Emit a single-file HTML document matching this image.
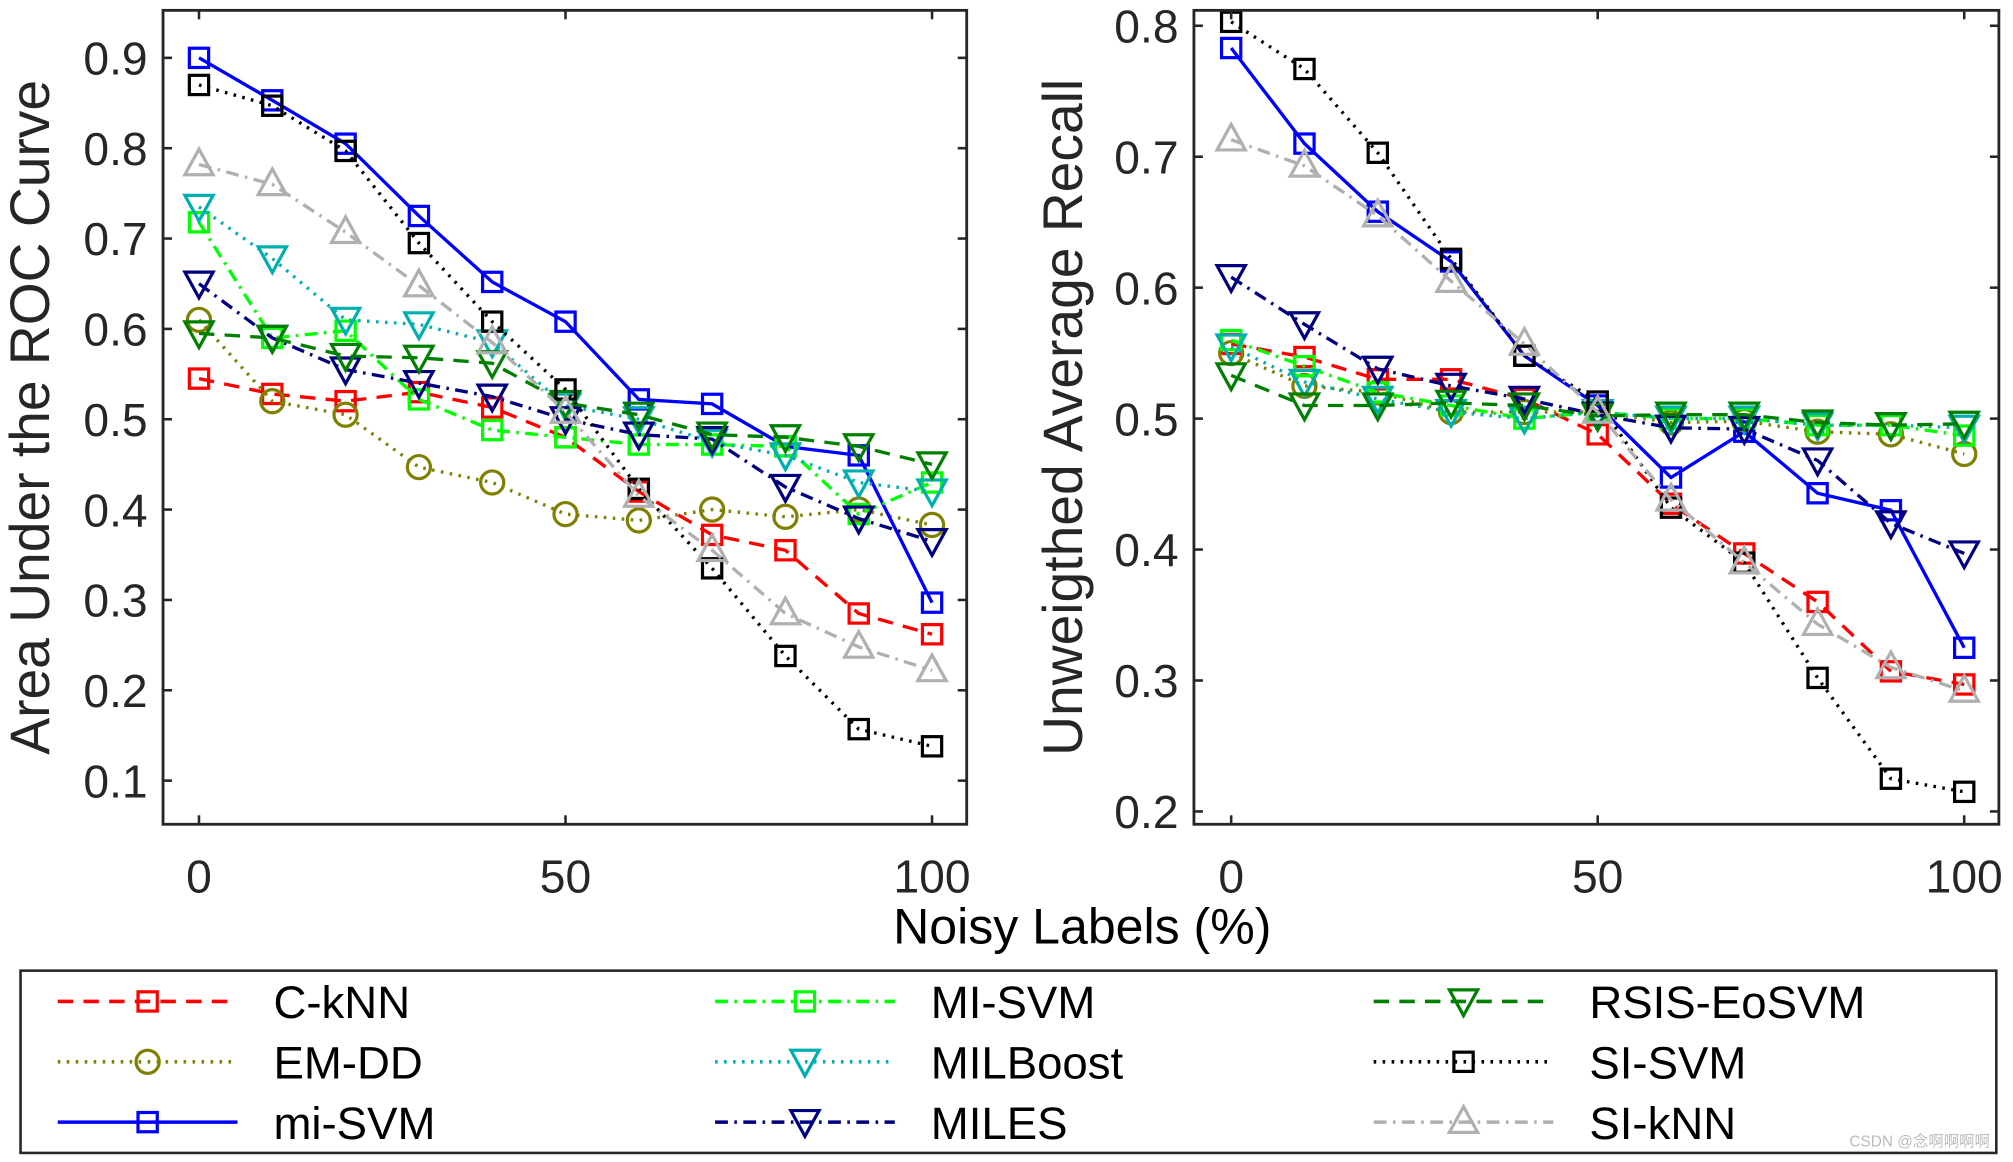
<!DOCTYPE html>
<html><head><meta charset="utf-8"><style>
html,body{margin:0;padding:0;background:#fff;}
svg{display:block;font-family:"Liberation Sans",sans-serif;}
</style></head><body>
<svg id="fig" width="2013" height="1162" viewBox="0 0 1568 905" xmlns="http://www.w3.org/2000/svg"></svg>
<script>
const xValues=[0,10,20,30,40,50,60,70,80,90,100];
const seriesNames=["C-kNN","EM-DD","mi-SVM","MI-SVM","MILBoost","MILES","RSIS-EoSVM","SI-SVM","SI-kNN"];
const aucCkNN=[.545,.528,.52,.53,.513,.48,.42,.372,.355,.285,.262];
const aucEMDD=[.61,.52,.505,.447,.43,.395,.388,.40,.392,.40,.383];
const aucMiSVM=[.90,.853,.805,.725,.652,.608,.522,.517,.47,.46,.297];
const aucMISVM=[.718,.59,.598,.522,.488,.48,.472,.472,.47,.395,.43];
const aucMILBoost=[.735,.678,.61,.605,.585,.515,.50,.475,.46,.43,.42];
const aucMILES=[.65,.59,.555,.54,.525,.50,.483,.478,.425,.39,.365];
const aucRSIS=[.595,.59,.57,.568,.562,.518,.505,.483,.48,.47,.45];
const aucSISVM=[.87,.847,.797,.695,.608,.533,.423,.335,.238,.157,.138];
const aucSIkNN=[.782,.76,.707,.648,.585,.508,.415,.355,.285,.248,.222];
const uarCkNN=[.557,.547,.53,.53,.515,.488,.435,.397,.36,.307,.297];
const uarEMDD=[.55,.525,.52,.505,.505,.505,.497,.498,.49,.488,.473];
const uarMiSVM=[.783,.71,.658,.62,.548,.51,.455,.49,.443,.43,.325];
const uarMISVM=[.56,.54,.52,.51,.50,.505,.50,.50,.495,.495,.487];
const uarMILBoost=[.555,.528,.515,.505,.50,.505,.50,.50,.495,.495,.493];
const uarMILES=[.608,.572,.538,.525,.515,.503,.493,.492,.468,.42,.397];
const uarRSIS=[.533,.51,.51,.512,.51,.502,.503,.503,.497,.495,.496];
const uarSISVM=[.803,.767,.703,.622,.548,.513,.432,.39,.302,.225,.215];
const uarSIkNN=[.713,.693,.655,.605,.557,.505,.438,.39,.343,.31,.292];
const xTicks=[0,50,100];
const aucTicks=[0.1,0.2,0.3,0.4,0.5,0.6,0.7,0.8,0.9];
const uarTicks=[0.2,0.3,0.4,0.5,0.6,0.7,0.8];

const styles=[
 {c:"#ff0000",d:"12,8",m:"sq"},
 {c:"#808000",d:"2,5",m:"ci"},
 {c:"#0000ff",d:"",m:"sq"},
 {c:"#00ff00",d:"10,5,2,5",m:"sq"},
 {c:"#00b0b0",d:"2,5",m:"dn"},
 {c:"#000080",d:"10,5,2,5",m:"dn"},
 {c:"#008000",d:"12,8",m:"dn"},
 {c:"#000000",d:"2,5",m:"sq"},
 {c:"#b0b0b0",d:"10,5,2,5",m:"up"}];
const NS="http://www.w3.org/2000/svg";
const svg=document.getElementById('fig');
function el(t,a,p){const e=document.createElementNS(NS,t);for(const k in a)e.setAttribute(k,a[k]);(p||svg).appendChild(e);return e;}
function marker(g,m,x,y,c){
 let e;
 if(m==="sq")e=el('rect',{x:x-7.5,y:y-7.5,width:15,height:15,fill:'none',stroke:c,'stroke-width':2.5},g);
 else if(m==="ci")e=el('circle',{cx:x,cy:y,r:9,fill:'none',stroke:c,'stroke-width':2.5},g);
 else if(m==="dn")e=el('path',{d:`M${x-11},${y-9}L${x+11},${y-9}L${x},${y+11}Z`,fill:'none',stroke:c,'stroke-width':2.5},g);
 else e=el('path',{d:`M${x-11},${y+8}L${x+11},${y+8}L${x},${y-12}Z`,fill:'none',stroke:c,'stroke-width':2.5},g);
 
 
}
function panel(name,box,x0,x100,yv0,yp0,yv1,yp1,ticks,data,label,lx){
 const sx=v=>x0+(x100-x0)*v/100;
 const sy=v=>yp0+(yp1-yp0)*(v-yv0)/(yv1-yv0);
 const g=el('g',{});
 
 
 data.forEach((arr,i)=>{
  const s=styles[i];
  const sg=el('g',{},g);
  
  
  const pts=arr.map((v,j)=>sx(xValues[j])+','+sy(v)).join(' ');
  const pl=el('polyline',{points:pts,fill:'none',stroke:s.c,'stroke-width':2.6,'stroke-dasharray':s.d},sg);
  
  
  arr.forEach((v,j)=>marker(sg,s.m,sx(xValues[j]),sy(v),s.c));
 });
 const r=el('rect',{x:box[0],y:box[1],width:box[2]-box[0],height:box[3]-box[1],fill:'none',stroke:'#262626','stroke-width':2.2},g);
 
 
 ticks.forEach(t=>{
  const y=sy(t);
  el('line',{x1:box[0],x2:box[0]+7,y1:y,y2:y,stroke:'#262626','stroke-width':2},g);
  el('line',{x1:box[2],x2:box[2]-7,y1:y,y2:y,stroke:'#262626','stroke-width':2},g);
  const tx=el('text',{x:box[0]-12,y:y+13,'text-anchor':'end','font-size':36,fill:'#262626'},g);
  tx.textContent=t.toFixed(1);
  
  
 });
 xTicks.forEach(t=>{
  const x=sx(t);
  el('line',{x1:x,x2:x,y1:box[3],y2:box[3]-7,stroke:'#262626','stroke-width':2},g);
  el('line',{x1:x,x2:x,y1:box[1],y2:box[1]+7,stroke:'#262626','stroke-width':2},g);
  const tx=el('text',{x:x,y:box[3]+53,'text-anchor':'middle','font-size':36,fill:'#262626'},g);
  tx.textContent=t;
  
  
 });
 const cy=(box[1]+box[3])/2;
 const yl=el('text',{x:0,y:0,transform:`translate(${lx},${cy}) rotate(-90)`,'text-anchor':'middle','font-size':43,fill:'#262626'},g);
 yl.textContent=label;
 
 
}
panel('auc-panel',[127,8,753,642],155,726,0.1,608,0.9,45,aucTicks,
 [aucCkNN,aucEMDD,aucMiSVM,aucMISVM,aucMILBoost,aucMILES,aucRSIS,aucSISVM,aucSIkNN],'Area Under the ROC Curve',38);
panel('uar-panel',[930,8,1557,642],959,1530,0.2,632,0.8,20,uarTicks,
 [uarCkNN,uarEMDD,uarMiSVM,uarMISVM,uarMILBoost,uarMILES,uarRSIS,uarSISVM,uarSIkNN],'Unweigthed Average Recall',843);
const xl=el('text',{x:843,y:735,'text-anchor':'middle','font-size':39,fill:'#000'});
xl.textContent='Noisy Labels (%)';


const lg=el('g',{});


el('rect',{x:16,y:756,width:1539,height:142,fill:'#fff',stroke:'#262626','stroke-width':2},lg);
const colX=[45,557,1070];const rowY=[780,827,874];
seriesNames.forEach((n,i)=>{
 const s=styles[i];const x=colX[Math.floor(i/3)];const y=rowY[i%3];
 const e=el('g',{},lg);
 
 
 el('line',{x1:x,x2:x+140,y1:y,y2:y,stroke:s.c,'stroke-width':2.8,'stroke-dasharray':s.d},e);
 marker(e,s.m,x+70,y,s.c);
 const t=el('text',{x:x+168,y:y+13,'font-size':35.5,fill:'#000'},e);
 t.textContent=n;
});
const wm=el('text',{x:1550,y:893,'text-anchor':'end','font-size':12,fill:'#bbb'});
wm.textContent='CSDN @念啊啊啊啊';


wm.setAttribute('font-family','"Liberation Sans","Noto Sans CJK SC",sans-serif');
</script>
</body></html>
